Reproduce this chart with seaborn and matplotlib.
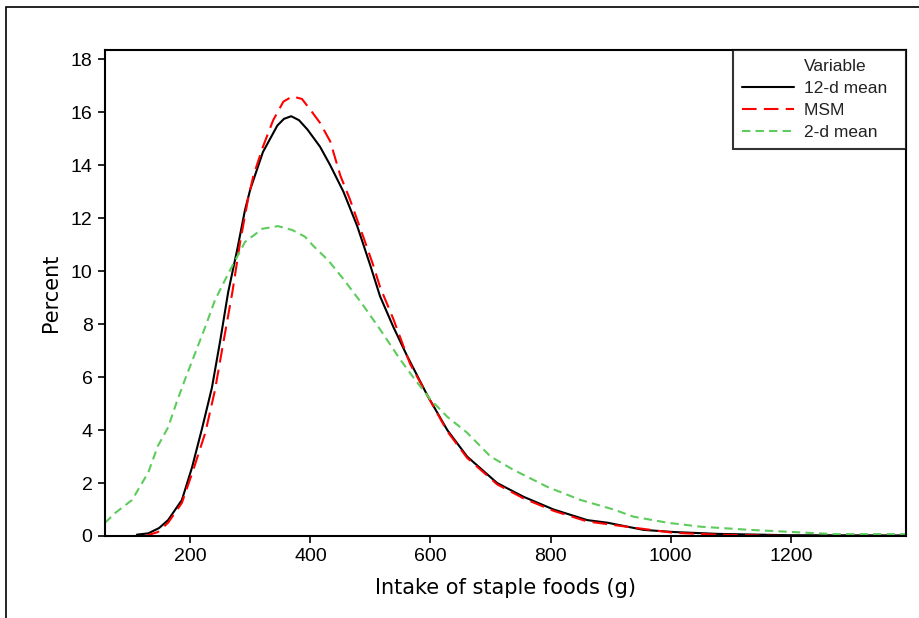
import matplotlib
import numpy as np
import pandas as pd
import seaborn as sns

from matplotlib import pyplot as plt
from matplotlib.lines import Line2D
from matplotlib.patches import Rectangle

matplotlib.use("Agg")

# curves (intake in g, percent)
x_12d = [111, 130, 148, 163, 186, 203, 220, 236, 250, 263, 278, 291, 300, 321, 345, 356, 368,
         381, 395, 416, 433, 455, 478, 500, 516, 538, 561, 595, 628, 661, 711, 755, 805,
         861, 895, 955, 1005, 1078, 1195, 1392]
y_12d = [0.05, 0.1, 0.3, 0.6, 1.36, 2.6, 4.1, 5.6, 7.4, 9.2, 10.8, 12.3, 13.1, 14.5, 15.5, 15.75, 15.85,
         15.7, 15.35, 14.7, 14.0, 13.0, 11.7, 10.2, 9.05, 7.9, 6.8, 5.3, 4.0, 3.0, 2.0, 1.48, 1.0,
         0.6, 0.5, 0.23, 0.15, 0.08, 0.03, 0.02]

x_msm = [125, 146, 163, 186, 205, 225, 241, 255, 270, 283, 296, 305, 321, 338, 355,
         370, 386, 403, 416, 433, 450, 466, 488, 505, 516, 538, 566, 595, 628, 661,
         711, 755, 805, 861, 933, 1005, 1078, 1195, 1392]
y_msm = [0.0, 0.15, 0.5, 1.25, 2.5, 3.9, 5.5, 7.3, 9.2, 11.1, 12.7, 13.6, 14.7, 15.7, 16.4,
         16.6, 16.5, 16.0, 15.6, 14.9, 13.6, 12.7, 11.3, 10.2, 9.4, 8.2, 6.5, 5.3, 3.95, 2.95,
         1.95, 1.42, 0.95, 0.55, 0.33, 0.12, 0.05, 0.0, 0.0]

x_2d = [58, 75, 103, 130, 146, 163, 178, 191, 208, 225, 241, 263, 291, 320, 346,
        370, 391, 405, 430, 455, 485, 516, 550, 571, 600, 628, 661, 700, 738, 795, 850, 905, 938,
        995, 1050, 1133, 1195, 1272, 1392]
y_2d = [0.5, 0.87, 1.36, 2.4, 3.4, 4.1, 5.1, 5.9, 6.9, 7.9, 8.9, 9.9, 11.1, 11.6, 11.7,
        11.55, 11.3, 10.95, 10.4, 9.7, 8.8, 7.8, 6.65, 6.0, 5.15, 4.5, 3.9, 3.0, 2.5, 1.85, 1.36, 1.0, 0.73,
        0.5, 0.35, 0.23, 0.16, 0.07, 0.07]

labels = ["12-d mean", "MSM", "2-d mean"]
colors = ["black", "#ff0000", "#5dcc5d"]
dashes = ["", (7, 3.5), (4, 2.5)]

df = pd.concat([
    pd.DataFrame({"x": x_12d, "y": y_12d, "Variable": labels[0]}),
    pd.DataFrame({"x": x_msm, "y": y_msm, "Variable": labels[1]}),
    pd.DataFrame({"x": x_2d, "y": y_2d, "Variable": labels[2]}),
])

sns.set_style("white")
plt.rcParams["font.family"] = ["Liberation Sans", "DejaVu Sans"]

fig = plt.figure(figsize=(9.19, 6.18), dpi=100)
ax = fig.add_axes([0.1143, 0.1327, 0.8716, 0.7864])

sns.lineplot(
    data=df, x="x", y="y", hue="Variable", style="Variable",
    palette=dict(zip(labels, colors)), dashes=dict(zip(labels, dashes)),
    linewidth=1.5, sort=False, estimator=None, ax=ax, legend=False,
)

ax.set_xlim(58, 1392)
ax.set_ylim(0, 18.35)
ax.set_xticks([200, 400, 600, 800, 1000, 1200])
ax.set_yticks(range(0, 19, 2))
ax.tick_params(axis="both", which="both", direction="out", length=5, width=1.2,
               labelsize=14, colors="black", bottom=True, left=True, pad=4)
for sp in ax.spines.values():
    sp.set_color("black")
    sp.set_linewidth(1.5)

ax.set_xlabel("Intake of staple foods (g)", family="DejaVu Sans", fontsize=15,
              color="black", labelpad=9)
ax.set_ylabel("Percent", family="DejaVu Sans", fontsize=15, color="black",
              labelpad=7)

# legend: title sits over the label column, so use a blank first entry
handles = [Line2D([], [], color="none")]
for lab, col, d in zip(labels, colors, dashes):
    h = Line2D([], [], color=col, linewidth=1.5)
    if d:
        h.set_dashes(d)
    handles.append(h)
leg_text = ["Variable"] + [lab + "  " for lab in labels]
leg = ax.legend(handles, leg_text, loc="upper right", borderaxespad=0,
                fancybox=False, frameon=True, fontsize=12.5, handlelength=3.0,
                handletextpad=0.6, labelspacing=0.4, borderpad=0.5)
leg.get_frame().set_edgecolor("black")
leg.get_frame().set_linewidth(1.5)
for t in leg.get_texts():
    t.set_color("#222222")

# outer frame (only top and left edges visible in the reference)
fig.patches.append(Rectangle((6 / 919, -0.5), 2.0, 1.5 - 7 / 618, transform=fig.transFigure,
                             fill=False, edgecolor="black", linewidth=1.2))

fig.savefig("out.png", dpi=100)
